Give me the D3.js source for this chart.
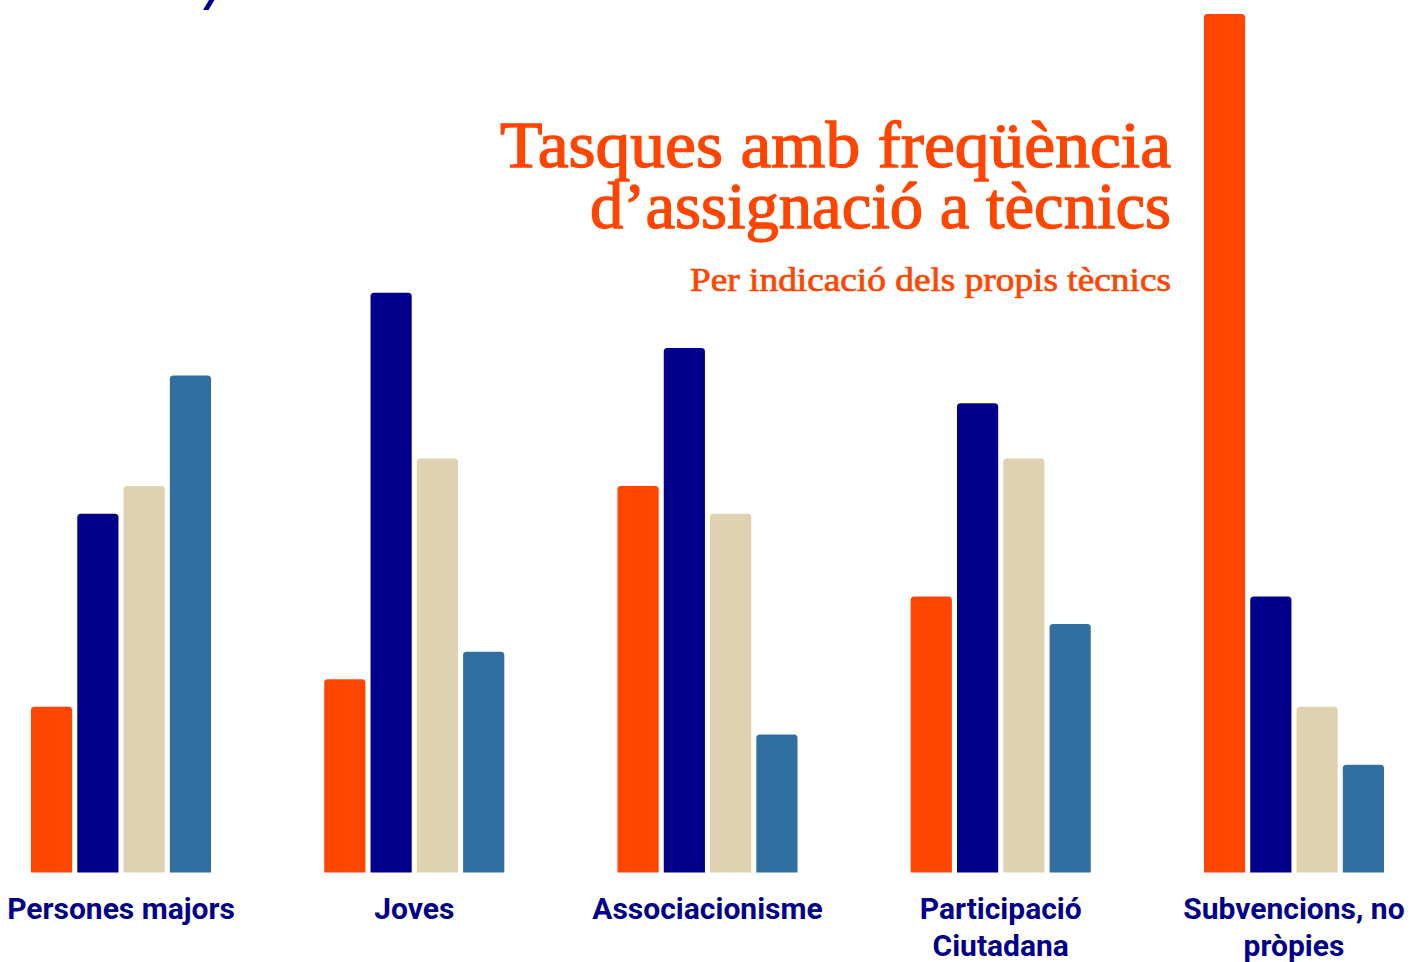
<!DOCTYPE html>
<html>
<head>
<meta charset="utf-8">
<script src="https://cdn.jsdelivr.net/npm/d3@7"></script>
<style>
  body { margin: 0; background: #fff; }
  svg { display: block; }
</style>
</head>
<body>
<svg id="chart" width="1411" height="962"></svg>
<script>
// categories and series
let categories = ["Persones majors", "Joves", "Associacionisme", "Participació Ciutadana", "Subvencions, no pròpies"];
let seriesKeys = ["s1", "s2", "s3", "s4"];
let s1Values = [6, 7, 14, 10, 31.1];
let s2Values = [13, 21, 19, 17, 10];
let s3Values = [14, 15, 13, 15, 6];
let s4Values = [18, 8, 5, 9, 3.9];
let seriesColors = ["#FF4500", "#00008B", "#E0D1B0", "#326FA1"];

let titleLines = ["Tasques amb freqüència", "d’assignació a tècnics"];
let subtitle = "Per indicació dels propis tècnics";

let data = categories.map(function(c, i) {
    return {category: c, values: [s1Values[i], s2Values[i], s3Values[i], s4Values[i]]};
});

let svg = d3.select('#chart');

let x0 = d3.scaleBand().domain(categories).range([31, 1384]).paddingInner(0.386).paddingOuter(0);
let x1 = d3.scaleBand().domain(seriesKeys).range([0, x0.bandwidth()]).paddingInner(0.11);
let y = d3.scaleLinear().domain([0, 31.1]).range([872.5, 14]);

function topRounded(x, yTop, w, h, r) {
    return "M" + x + "," + (yTop + h) +
        "V" + (yTop + r) +
        "Q" + x + "," + yTop + " " + (x + r) + "," + yTop +
        "H" + (x + w - r) +
        "Q" + (x + w) + "," + yTop + " " + (x + w) + "," + (yTop + r) +
        "V" + (yTop + h) + "Z";
}

// cut-off mark at the top left
svg.append("path")
    .attr("d", "M209,0L214.5,0L208.5,10L203,10Z")
    .attr("fill", "#00008B");

let groups = svg.selectAll("g.group")
    .data(data)
    .enter()
    .append("g")
    .attr("class", "group")
    .attr("transform", d => "translate(" + x0(d.category) + ",0)");

groups.selectAll("path")
    .data(d => d.values.map((v, i) => ({key: seriesKeys[i], value: v, idx: i})))
    .enter()
    .append("path")
    .attr("fill", d => seriesColors[d.idx])
    .attr("d", d => topRounded(x1(d.key), y(d.value), x1.bandwidth(), y(0) - y(d.value), 3.5));

// category labels, wrapped to the band step
let labels = svg.selectAll("text.cat")
    .data(categories)
    .enter()
    .append("text")
    .attr("class", "cat")
    .attr("x", d => x0(d) + x0.bandwidth() / 2)
    .attr("y", 919)
    .attr("text-anchor", "middle")
    .attr("font-family", "Roboto, sans-serif")
    .attr("font-weight", 700)
    .attr("font-size", "30px")
    .attr("fill", "#00008B");

labels.each(function(d) {
    let text = d3.select(this);
    let words = d.split(" ");
    let line = [];
    let cx = text.attr("x");
    let tspan = text.append("tspan").attr("x", cx).attr("dy", 0);
    words.forEach(function(w) {
        line.push(w);
        tspan.text(line.join(" "));
        if (tspan.node().getComputedTextLength() > x0.step() && line.length > 1) {
            line.pop();
            tspan.text(line.join(" "));
            line = [w];
            tspan = text.append("tspan").attr("x", cx).attr("dy", "37px").text(w);
        }
    });
});

// title block: one text element, two lines
let titleWidths = [671, 581];
let titleBaselines = [166.7, 228.3];
let title = svg.append("text")
    .attr("text-anchor", "end")
    .attr("font-family", "'Liberation Serif', 'DejaVu Serif', serif")
    .attr("font-size", "66px")
    .attr("fill", "#FF4500")
    .attr("stroke", "#FF4500")
    .attr("stroke-width", 1.3);

title.selectAll("tspan")
    .data(titleLines)
    .enter()
    .append("tspan")
    .attr("x", 1171)
    .attr("y", (d, i) => titleBaselines[i])
    .attr("textLength", (d, i) => titleWidths[i])
    .attr("lengthAdjust", "spacingAndGlyphs")
    .text(d => d);

svg.append("text")
    .attr("x", 1171)
    .attr("y", 291)
    .attr("text-anchor", "end")
    .attr("font-family", "'Liberation Serif', 'DejaVu Serif', serif")
    .attr("font-size", "33px")
    .attr("fill", "#FF4500")
    .attr("stroke", "#FF4500")
    .attr("stroke-width", 0.7)
    .attr("textLength", 481)
    .attr("lengthAdjust", "spacingAndGlyphs")
    .text(subtitle);
</script>
</body>
</html>
